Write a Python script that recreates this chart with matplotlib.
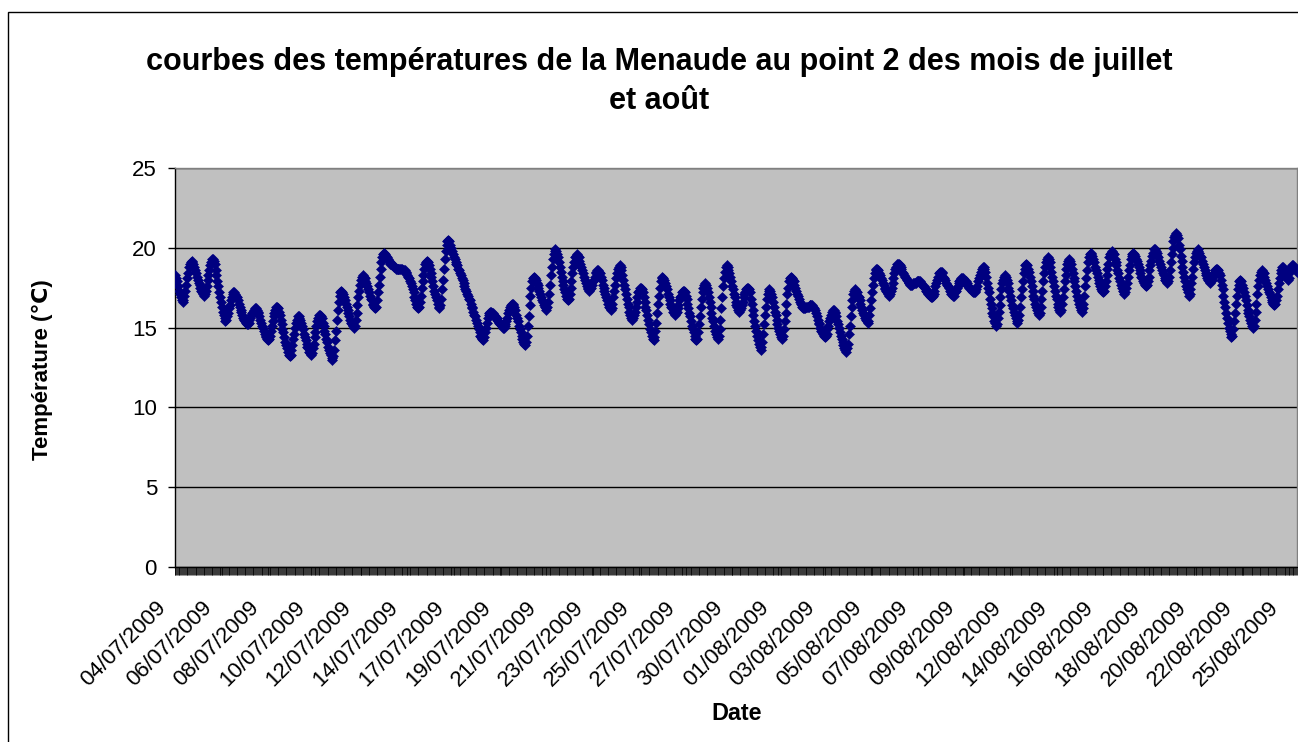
import numpy as np
import matplotlib
matplotlib.use('Agg')
import matplotlib.pyplot as plt
from matplotlib.patches import Rectangle
from matplotlib.transforms import ScaledTranslation

plt.rcParams['font.family'] = ['Liberation Sans', 'DejaVu Sans']

# Hourly water temperatures (°C), one row per day, starting 04/07/2009 00:00
temperatures_juillet = [
    18.3,18.1,17.9,17.6,17.3,17.1,16.9,16.7,16.6,16.7,17.0,17.3,17.7,18.1,18.4,18.8,19.0,19.1,19.2,19.1,19.0,18.8,18.6,18.4,
    18.2,18.0,17.8,17.7,17.5,17.3,17.2,17.1,17.0,17.1,17.3,17.6,18.0,18.3,18.6,18.9,19.1,19.3,19.3,19.2,19.0,18.6,18.3,17.9,
    17.6,17.2,16.9,16.6,16.3,16.0,15.8,15.6,15.4,15.5,15.7,15.9,16.2,16.4,16.7,16.9,17.1,17.2,17.2,17.1,17.0,16.9,16.7,16.5,
    16.3,16.1,16.0,15.8,15.6,15.5,15.4,15.3,15.2,15.2,15.3,15.5,15.6,15.8,15.9,16.0,16.1,16.2,16.2,16.1,16.0,15.9,15.7,15.5,
    15.3,15.1,15.0,14.8,14.6,14.5,14.4,14.3,14.2,14.3,14.5,14.8,15.1,15.4,15.7,15.9,16.1,16.3,16.3,16.2,16.0,15.8,15.5,15.2,
    14.9,14.7,14.4,14.1,13.9,13.7,13.5,13.3,13.2,13.3,13.6,13.9,14.3,14.6,15.0,15.3,15.5,15.7,15.7,15.6,15.5,15.3,15.1,14.9,
    14.6,14.4,14.2,14.0,13.8,13.7,13.5,13.4,13.3,13.4,13.7,14.0,14.4,14.7,15.1,15.4,15.6,15.8,15.8,15.7,15.6,15.3,15.1,14.8,
    14.6,14.3,14.1,13.8,13.6,13.4,13.3,13.1,13.0,13.2,13.6,14.2,14.8,15.5,16.1,16.6,17.0,17.2,17.3,17.2,17.1,16.9,16.7,16.5,
    16.3,16.1,15.9,15.7,15.5,15.3,15.2,15.1,15.0,15.1,15.5,15.9,16.4,16.9,17.3,17.7,18.0,18.2,18.3,18.2,18.1,17.9,17.8,17.6,
    17.4,17.2,17.0,16.8,16.7,16.5,16.4,16.3,16.2,16.3,16.7,17.2,17.7,18.2,18.7,19.1,19.4,19.6,19.7,19.6,19.5,19.4,19.3,19.2,
    19.1,19.0,19.0,18.9,18.9,18.8,18.8,18.7,18.7,18.7,18.7,18.7,18.7,18.7,18.7,18.6,18.6,18.6,18.5,18.4,18.3,18.2,18.1,17.9,
    17.8,17.6,17.4,17.2,16.9,16.7,16.5,16.3,16.2,16.3,16.6,17.0,17.5,17.9,18.3,18.7,19.0,19.1,19.2,19.1,18.9,18.7,18.4,18.2,
    17.9,17.6,17.3,17.1,16.9,16.7,16.5,16.3,16.2,16.4,16.8,17.4,18.0,18.7,19.3,19.8,20.2,20.4,20.5,20.4,20.2,20.0,19.8,19.6,
    19.4,19.3,19.1,19.0,18.9,18.7,18.6,18.4,18.3,18.1,18.0,17.8,17.6,17.4,17.3,17.1,17.0,16.8,16.7,16.5,16.3,16.2,16.0,15.8,
    15.7,15.5,15.3,15.1,14.9,14.7,14.5,14.4,14.3,14.2,14.4,14.7,15.0,15.3,15.6,15.8,15.9,16.0,16.0,15.9,15.9,15.8,15.7,15.6,
    15.6,15.5,15.4,15.3,15.2,15.2,15.1,15.0,15.0,15.1,15.2,15.4,15.6,15.9,16.1,16.3,16.4,16.5,16.5,16.4,16.3,16.1,15.8,15.6,
    15.4,15.1,14.9,14.7,14.5,14.3,14.1,14.0,13.9,14.1,14.5,15.1,15.7,16.4,17.0,17.5,17.9,18.1,18.2,18.1,18.0,17.8,17.7,17.5,
    17.3,17.1,16.9,16.7,16.6,16.4,16.3,16.2,16.1,16.3,16.6,17.1,17.7,18.3,18.8,19.3,19.6,19.8,19.9,19.8,19.6,19.4,19.1,18.8,
    18.5,18.2,17.9,17.7,17.4,17.2,17.0,16.8,16.7,16.8,17.1,17.5,17.9,18.4,18.8,19.1,19.4,19.5,19.6,19.5,19.4,19.2,19.0,18.8,
    18.6,18.4,18.2,18.0,17.8,17.6,17.5,17.4,17.3,17.4,17.5,17.7,17.9,18.0,18.2,18.4,18.5,18.6,18.6,18.5,18.4,18.2,18.0,17.7,
    17.5,17.3,17.1,16.9,16.7,16.5,16.3,16.2,16.1,16.2,16.5,16.9,17.3,17.7,18.1,18.4,18.7,18.8,18.9,18.8,18.6,18.3,18.0,17.7,
    17.4,17.1,16.8,16.5,16.3,16.0,15.8,15.6,15.5,15.6,15.8,16.0,16.3,16.6,16.9,17.2,17.3,17.5,17.5,17.4,17.2,16.9,16.6,16.3,
    16.1,15.8,15.5,15.2,14.9,14.7,14.5,14.3,14.2,14.4,14.8,15.3,15.9,16.5,17.0,17.5,17.9,18.1,18.2,18.1,18.0,17.8,17.6,17.4,
    17.1,16.9,16.7,16.5,16.3,16.2,16.0,15.9,15.8,15.9,16.0,16.2,16.4,16.7,16.9,17.0,17.2,17.3,17.3,17.2,17.0,16.8,16.5,16.2,
    15.9,15.7,15.4,15.1,14.9,14.7,14.5,14.3,14.2,14.3,14.7,15.2,15.7,16.3,16.8,17.2,17.5,17.7,17.8,17.7,17.5,17.2,16.9,16.6,
    16.3,15.9,15.6,15.4,15.1,14.8,14.6,14.4,14.3,14.5,14.9,15.5,16.2,16.9,17.6,18.1,18.5,18.8,18.9,18.8,18.6,18.4,18.2,17.9,
    17.6,17.4,17.1,16.9,16.6,16.4,16.3,16.1,16.0,16.1,16.2,16.4,16.6,16.9,17.1,17.2,17.4,17.5,17.5,17.4,17.2,16.8,16.5,16.1,
    15.8,15.4,15.1,14.8,14.5,14.2,14.0,13.8,13.6,13.8,14.1,14.6,15.2,15.8,16.3,16.8,17.1,17.3,17.4,17.3,17.1,16.9,16.6,16.3,
]

temperatures_aout = [
    16.0,15.8,15.5,15.2,15.0,14.8,14.6,14.4,14.3,14.5,14.9,15.4,15.9,16.5,17.1,17.5,17.9,18.1,18.2,18.1,18.0,17.9,17.7,17.5,
    17.3,17.1,17.0,16.8,16.6,16.5,16.4,16.3,16.2,16.2,16.2,16.3,16.3,16.3,16.3,16.4,16.4,16.4,16.4,16.3,16.2,16.1,15.9,15.7,
    15.5,15.3,15.2,15.0,14.8,14.7,14.6,14.5,14.4,14.5,14.6,14.9,15.1,15.4,15.6,15.8,16.0,16.1,16.1,16.0,15.9,15.7,15.4,15.2,
    15.0,14.7,14.5,14.3,14.1,13.9,13.7,13.6,13.5,13.7,14.0,14.6,15.1,15.7,16.3,16.7,17.1,17.3,17.4,17.3,17.2,17.0,16.9,16.7,
    16.5,16.3,16.1,15.9,15.8,15.6,15.5,15.4,15.3,15.4,15.8,16.2,16.7,17.2,17.7,18.1,18.4,18.6,18.7,18.7,18.6,18.4,18.3,18.1,
    18.0,17.8,17.7,17.5,17.4,17.3,17.2,17.1,17.0,17.1,17.3,17.5,17.8,18.1,18.4,18.7,18.8,19.0,19.0,19.0,18.9,18.8,18.7,18.5,
    18.4,18.3,18.2,18.1,18.0,17.9,17.8,17.8,17.7,17.7,17.7,17.8,17.8,17.8,17.8,17.9,17.9,17.9,17.9,17.9,17.8,17.7,17.6,17.6,
    17.5,17.4,17.3,17.2,17.1,17.1,17.0,16.9,16.9,17.0,17.1,17.3,17.6,17.8,18.0,18.2,18.4,18.5,18.5,18.5,18.4,18.2,18.1,18.0,
    17.8,17.7,17.6,17.5,17.3,17.2,17.1,17.1,17.0,17.0,17.2,17.3,17.5,17.6,17.8,17.9,18.0,18.1,18.1,18.1,18.0,17.9,17.9,17.8,
    17.7,17.6,17.5,17.5,17.4,17.3,17.2,17.2,17.2,17.3,17.4,17.6,17.9,18.1,18.3,18.5,18.7,18.8,18.8,18.7,18.5,18.2,17.8,17.5,
    17.2,16.8,16.5,16.2,15.9,15.7,15.4,15.3,15.1,15.2,15.6,16.0,16.4,16.9,17.4,17.8,18.0,18.2,18.3,18.2,18.0,17.8,17.5,17.3,
    17.0,16.7,16.4,16.2,16.0,15.8,15.6,15.4,15.3,15.5,15.8,16.3,16.9,17.4,17.9,18.4,18.7,18.9,19.0,18.9,18.7,18.5,18.2,17.9,
    17.6,17.3,17.0,16.8,16.5,16.3,16.1,15.9,15.8,15.9,16.3,16.8,17.3,17.9,18.4,18.8,19.1,19.3,19.4,19.3,19.1,18.8,18.5,18.2,
    17.9,17.6,17.3,17.0,16.8,16.5,16.3,16.1,16.0,16.1,16.5,16.9,17.4,17.9,18.3,18.7,19.0,19.2,19.3,19.2,19.0,18.7,18.4,18.1,
    17.9,17.6,17.3,17.0,16.7,16.5,16.3,16.1,16.0,16.2,16.5,17.0,17.6,18.1,18.6,19.1,19.4,19.6,19.7,19.6,19.5,19.3,19.1,18.8,
    18.6,18.4,18.2,18.0,17.8,17.6,17.4,17.3,17.2,17.3,17.6,17.9,18.3,18.7,19.0,19.4,19.6,19.7,19.8,19.7,19.6,19.3,19.1,18.9,
    18.6,18.4,18.1,17.9,17.7,17.5,17.3,17.2,17.1,17.2,17.5,17.8,18.2,18.6,18.9,19.3,19.5,19.6,19.7,19.6,19.5,19.3,19.2,19.0,
    18.8,18.6,18.4,18.2,18.1,17.9,17.8,17.7,17.6,17.7,17.9,18.2,18.6,18.9,19.2,19.5,19.7,19.9,19.9,19.8,19.7,19.5,19.4,19.2,
    19.0,18.8,18.6,18.4,18.3,18.1,18.0,17.9,17.8,17.9,18.2,18.6,19.1,19.6,20.0,20.4,20.7,20.8,20.9,20.8,20.6,20.2,19.9,19.5,
    19.2,18.8,18.5,18.2,17.9,17.6,17.4,17.2,17.0,17.1,17.4,17.8,18.2,18.7,19.1,19.4,19.7,19.8,19.9,19.8,19.7,19.5,19.4,19.2,
    19.0,18.8,18.6,18.4,18.3,18.1,18.0,17.9,17.8,17.9,18.0,18.2,18.4,18.5,18.6,18.7,18.7,18.6,18.4,18.3,18.0,17.7,17.4,17.0,
    16.6,16.3,15.9,15.6,15.3,15.0,14.8,14.6,14.4,14.5,14.9,15.4,15.9,16.5,17.0,17.4,17.7,17.9,18.0,17.9,17.7,17.5,17.2,17.0,
    16.7,16.4,16.1,15.9,15.7,15.5,15.3,15.1,15.0,15.1,15.5,16.0,16.5,17.1,17.6,18.0,18.3,18.5,18.6,18.5,18.4,18.2,18.0,17.8,
    17.6,17.4,17.2,17.1,16.9,16.7,16.6,16.5,16.4,16.5,16.7,17.0,17.4,17.8,18.1,18.4,18.6,18.8,18.8,18.7,18.5,18.3,18.1,18.0,
    18.1,18.4,18.7,18.8,18.9,18.9,18.8,18.7,18.6,18.5,
]

tick_labels = [
    '04/07/2009', '06/07/2009', '08/07/2009', '10/07/2009', '12/07/2009',
    '14/07/2009', '17/07/2009', '19/07/2009', '21/07/2009', '23/07/2009',
    '25/07/2009', '27/07/2009', '30/07/2009', '01/08/2009', '03/08/2009',
    '05/08/2009', '07/08/2009', '09/08/2009', '12/08/2009', '14/08/2009',
    '16/08/2009', '18/08/2009', '20/08/2009', '22/08/2009', '25/08/2009',
]
label_step = 52  # one label every 52 hourly categories

title = 'courbes des températures de la Menaude au point 2 des mois de juillet\net août'
y_title = 'Température (\u2103)'
x_title = 'Date'

temps = np.array(temperatures_juillet + temperatures_aout)
cats = np.arange(len(temps))

W, H = 1298, 742
fig = plt.figure(figsize=(W / 100, H / 100), dpi=100)
fig.patch.set_facecolor('white')

# chart-area border
fig.add_artist(Rectangle((8 / W, -0.05), 1.2, 1 - 12 / H + 0.05,
                         transform=fig.transFigure, fill=False,
                         edgecolor='black', linewidth=1.0))

ax = fig.add_axes([175 / W, 1 - 567 / H, 1122 / W, 399 / H])
ax.set_facecolor('#C0C0C0')
ax.plot(cats, temps, linestyle='none', marker='D', markersize=4.8,
        color='#000080', markeredgecolor='#000080', markeredgewidth=0.4,
        zorder=3)

ax.set_xlim(-0.5, len(temps) - 0.5)
ax.set_ylim(0, 25)
ax.set_yticks(np.arange(0, 26, 5))
ax.yaxis.grid(True, color='black', linewidth=1.0)
ax.set_axisbelow(True)

for side in ('left', 'bottom'):
    ax.spines[side].set_color('black')
    ax.spines[side].set_linewidth(1.0)
for side in ('top', 'right'):
    ax.spines[side].set_color('#808080')
    ax.spines[side].set_linewidth(1.0)

ax.set_xticks(cats[::label_step])
ax.set_xticklabels(tick_labels)
ax.set_xticks(np.arange(len(temps) + 1) - 0.5, minor=True)
ax.tick_params(axis='x', which='both', direction='out', length=5.5, width=0.55,
               color='black')
ax.tick_params(axis='x', which='major', pad=16.0, labelsize=16)
ax.tick_params(axis='y', which='major', direction='out', length=5, width=1.0,
               pad=8, labelsize=16)

offset = ScaledTranslation(-20 / 100, 0, fig.dpi_scale_trans)
for lbl in ax.get_xticklabels():
    lbl.set_rotation(45)
    lbl.set_ha('right')
    lbl.set_va('top')
    lbl.set_rotation_mode('anchor')
    lbl.set_transform(lbl.get_transform() + offset)

fig.text(42 / W, 1 - 370 / H, y_title, rotation=90, ha='center', va='center',
         fontsize=16, fontweight='bold')
fig.text(737 / W, 1 - 713 / H, x_title, ha='center', va='center',
         fontsize=16.8, fontweight='bold')
fig.text(659 / W, 1 - 47 / H, title, ha='center', va='top',
         fontsize=22, fontweight='bold', linespacing=1.38)

fig.savefig('out.png', dpi=100)
